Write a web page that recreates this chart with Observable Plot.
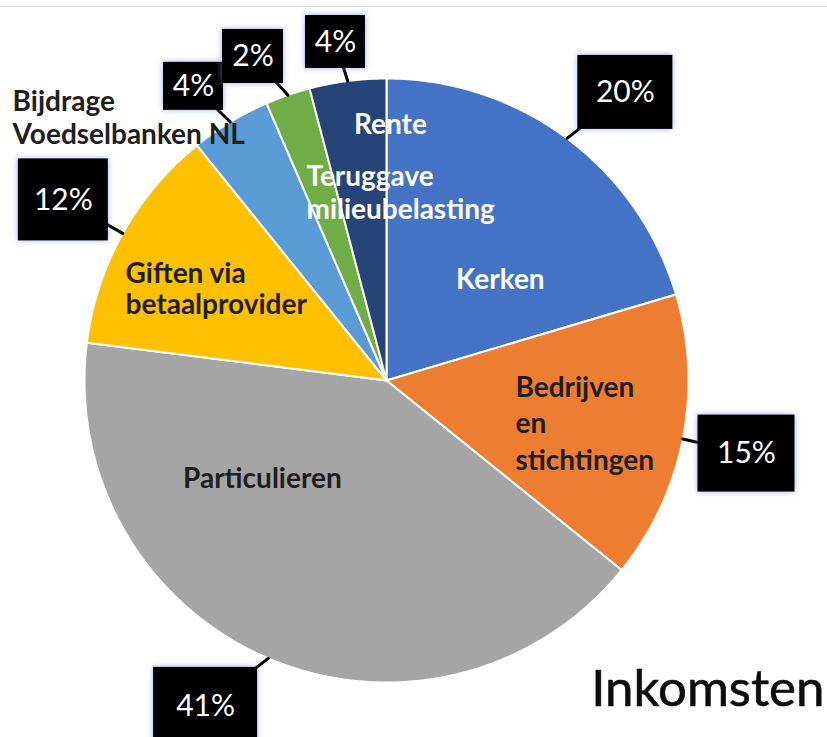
<!DOCTYPE html>
<html><head><meta charset="utf-8">
<script src="https://cdn.jsdelivr.net/npm/d3@7"></script>
<script src="https://cdn.jsdelivr.net/npm/@observablehq/plot@0.6"></script>
<style>
body{margin:0;background:#fff;}
#wrap{position:relative;width:827px;height:737px;overflow:hidden;}
#topline{position:absolute;left:0;top:6px;width:827px;height:1px;background:#dcdcdc;}
</style></head><body><div id="wrap"></div>
<script>
// ---- data ----
const categories = ["Kerken","Bedrijven en stichtingen","Particulieren","Giften via betaalprovider","Bijdrage Voedselbanken NL","Teruggave milieubelasting","Rente"];
const shares = [20.4, 15.4, 41.2, 12.2, 4.3, 2.4, 4.1];
const sliceLabels = ["Kerken","Bedrijven\nen\nstichtingen","Particulieren","Giften via\nbetaalprovider","Bijdrage\nVoedselbanken NL","Teruggave\nmilieubelasting","Rente"];
const colors = ["#4472C4","#ED7D31","#A5A5A5","#FFC000","#5B9BD5","#70AD47","#264478"];
const title = "Inkomsten";

// ---- layout (data units of the unit circle) ----
const labelPos = [
  {x: 0.377, y: 0.338, anchor: "middle", fill: "#ffffff", lh: 1.2},
  {x: 0.427, y: -0.136, anchor: "start", fill: "#1e1e1e", lh: 1.3},
  {x: -0.411, y: -0.321, anchor: "middle", fill: "#1e1e1e", lh: 1.2},
  {x: -0.864, y: 0.305, anchor: "start", fill: "#1e1e1e", lh: 1.1},
  {x: -1.238, y: 0.874, anchor: "start", fill: "#1e1e1e", lh: 1.2},
  {x: -0.265, y: 0.624, anchor: "start", fill: "#ffffff", lh: 1.18},
  {x: 0.013, y: 0.851, anchor: "middle", fill: "#ffffff", lh: 1.2}
];
const boxPos = [
  {x: 0.791, y: 0.954, w: 95, h: 74},
  {x: 1.192, y: -0.242, w: 97, h: 77},
  {x: -0.599, y: -1.079, w: 104, h: 78},
  {x: -1.070, y: 0.598, w: 90, h: 82},
  {x: -0.639, y: 0.974, w: 60, h: 48},
  {x: -0.442, y: 1.073, w: 61, h: 54},
  {x: -0.169, y: 1.121, w: 60, h: 53}
];

const xRange = [84, 688], yRange = [682, 78];
const pxPerUnit = (xRange[1] - xRange[0]) / 2;

const rows = categories.map((c, i) => ({name: c, value: shares[i], i}));
const arcs = d3.pie().sort(null).value(d => d.value)(rows);

const slicePts = [];
arcs.forEach(a => {
  const name = a.data.name;
  slicePts.push({name, x: 0, y: 0});
  const n = Math.max(4, Math.ceil((a.endAngle - a.startAngle) / 0.005));
  for (let k = 0; k <= n; k++) {
    const t = a.startAngle + (a.endAngle - a.startAngle) * k / n;
    slicePts.push({name, x: Math.sin(t), y: Math.cos(t)});
  }
  slicePts.push({name, x: 0, y: 0});
});

const total = d3.sum(shares);
const callouts = arcs.map((a, i) => {
  const mid = (a.startAngle + a.endAngle) / 2;
  const b = boxPos[i];
  return {
    i, tipX: Math.sin(mid), tipY: Math.cos(mid),
    cx: b.x, cy: b.y,
    x1: b.x - b.w / 2 / pxPerUnit, x2: b.x + b.w / 2 / pxPerUnit,
    y1: b.y - b.h / 2 / pxPerUnit, y2: b.y + b.h / 2 / pxPerUnit,
    text: Math.round(a.data.value / total * 100) + "%"
  };
});
const tails = callouts.flatMap(c => [{i: c.i, x: c.cx, y: c.cy}, {i: c.i, x: c.tipX, y: c.tipY}]);

const labelMarks = sliceLabels.map((t, i) => Plot.text([t], {
  x: () => labelPos[i].x, y: () => labelPos[i].y, text: d => d,
  textAnchor: labelPos[i].anchor, lineAnchor: "middle", lineHeight: labelPos[i].lh,
  fill: labelPos[i].fill, fontSize: 28, fontWeight: "bold", fontFamily: "Lato"
}));

const chart = Plot.plot({
  width: 827, height: 737, margin: 0,
  style: {background: "transparent", fontFamily: "Lato"},
  x: {domain: [-1, 1], range: xRange, axis: null},
  y: {domain: [-1, 1], range: yRange, axis: null},
  color: {domain: categories, range: colors},
  marks: [
    Plot.line(slicePts, {x: "x", y: "y", z: "name", fill: "name", stroke: "white", strokeWidth: 2, strokeLinejoin: "round", curve: "linear"}),
    ...labelMarks,
    Plot.line(tails, {x: "x", y: "y", z: "i", stroke: "black", strokeWidth: 3}),
    Plot.rect(callouts, {x1: "x1", x2: "x2", y1: "y1", y2: "y2", fill: "black"}),
    Plot.text(callouts, {x: "cx", y: "cy", text: "text", fill: "white", fontSize: 30, fontFamily: "Lato", lineAnchor: "middle"}),
    Plot.text([title], {frameAnchor: "bottom-right", text: d => d, textAnchor: "end", lineAnchor: "middle", dx: -3, dy: -48, fontSize: 51, fontFamily: "Lato", fill: "#0d0d0d", stroke: "#0d0d0d", strokeWidth: 0.6})
  ]
});
chart.querySelectorAll("g[aria-label=rect] rect").forEach(r => r.style.filter = "drop-shadow(0 0 3px rgba(120,150,230,0.7))");
const wrap = document.getElementById("wrap");
wrap.appendChild(chart);
const tl = document.createElement("div"); tl.id = "topline"; wrap.appendChild(tl);
</script>
</body></html>
